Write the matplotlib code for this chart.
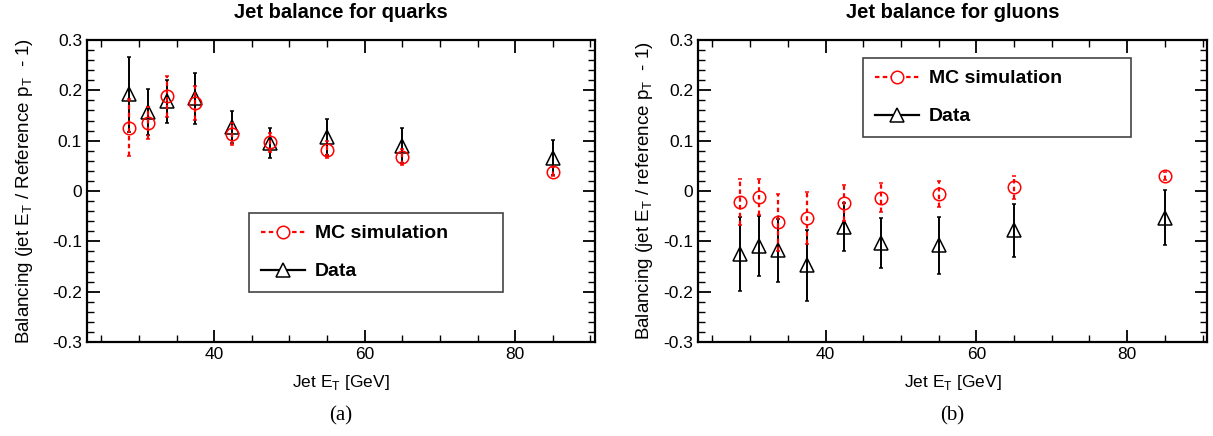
import numpy as np
import matplotlib
matplotlib.use('Agg')
from matplotlib import pyplot as plt
from matplotlib.lines import Line2D
from matplotlib.ticker import MultipleLocator

plt.rcParams['font.family'] = ['Liberation Sans', 'DejaVu Sans']

# jet E_T bins [GeV]
et = [28.7, 31.2, 33.7, 37.5, 42.4, 47.4, 55.0, 65.0, 85.0]

# quarks
q_mc = [0.126, 0.135, 0.188, 0.175, 0.113, 0.097, 0.082, 0.068, 0.038]
q_mc_err = [0.057, 0.031, 0.041, 0.033, 0.022, 0.019, 0.017, 0.016, 0.009]
q_data = [0.192, 0.157, 0.178, 0.184, 0.127, 0.096, 0.107, 0.090, 0.066]
q_data_err = [0.075, 0.045, 0.042, 0.050, 0.032, 0.030, 0.036, 0.035, 0.035]

# gluons
g_mc = [-0.022, -0.012, -0.062, -0.054, -0.024, -0.013, -0.006, 0.007, 0.030]
g_mc_err = [0.046, 0.036, 0.057, 0.052, 0.035, 0.029, 0.026, 0.023, 0.008]
g_data = [-0.125, -0.109, -0.118, -0.148, -0.072, -0.103, -0.108, -0.078, -0.053]
g_data_err = [0.074, 0.059, 0.063, 0.070, 0.048, 0.049, 0.056, 0.053, 0.055]


def panel(ax, mc, mc_err, data, data_err, title, ylabel, letter, legbox, ypad):
    e1 = ax.errorbar(et, mc, yerr=mc_err, fmt='o', color='red', mfc='none',
                     ms=9, mew=1.1, elinewidth=1.6, capsize=1.5, capthick=1.6,
                     zorder=3)
    e1[2][0].set_linestyle((0, (2, 1.5)))
    ax.errorbar(et, data, yerr=data_err, fmt='^', color='black', mfc='none',
                ms=10, mew=1.1, elinewidth=1.4, capsize=1.5, capthick=1.6,
                zorder=2)
    ax.set_xlim(23.1, 90.6)
    ax.set_ylim(-0.3, 0.3)
    ax.xaxis.set_major_locator(MultipleLocator(20))
    ax.xaxis.set_minor_locator(MultipleLocator(5))
    ax.yaxis.set_minor_locator(MultipleLocator(0.02))
    ax.set_yticks(np.arange(-0.3, 0.31, 0.1))
    ax.set_yticklabels(['-0.3', '-0.2', '-0.1', '0', '0.1', '0.2', '0.3'])
    ax.tick_params(which='both', direction='in', top=True, right=True,
                   labelsize=12.5)
    ax.tick_params(which='major', length=9, width=1.3)
    ax.tick_params(which='minor', length=5, width=1.0)
    for s in ax.spines.values():
        s.set_linewidth(1.6)
    ax.set_title(title, fontsize=14.5, fontweight='bold', pad=15.5)
    ax.set_xlabel('Jet E$_\\mathregular{T}$ [GeV]', fontsize=12.5, labelpad=8)
    ax.set_ylabel(ylabel, fontsize=13.5, labelpad=ypad)
    ax.text(0.5, -0.212, letter, transform=ax.transAxes, ha='center',
            va='top', fontsize=15, family='Liberation Serif')
    handles = [
        Line2D([], [], color='red', ls=(0, (2, 1.5)), lw=1.6, marker='o',
               mfc='white', ms=9, mew=1.1),
        Line2D([], [], color='black', ls='-', lw=1.6, marker='^',
               mfc='white', ms=10, mew=1.1),
    ]
    leg = ax.legend(handles, ['MC simulation', 'Data'], loc='upper left',
                    bbox_to_anchor=legbox, mode='expand', fancybox=False,
                    edgecolor='#444444', framealpha=1,
                    prop={'weight': 'bold', 'size': 14}, handlelength=2.3,
                    borderpad=0.6, labelspacing=1.05, handletextpad=0.5,
                    borderaxespad=0)
    leg.get_frame().set_linewidth(1.2)


fig = plt.figure(figsize=(12.13, 4.36), dpi=100)
ax1 = fig.add_axes([0.0717, 0.2156, 0.4188, 0.6927])
ax2 = fig.add_axes([0.5755, 0.2156, 0.4196, 0.6927])

panel(ax1, q_mc, q_mc_err, q_data, q_data_err, 'Jet balance for quarks',
      'Balancing (jet E$_\\mathregular{T}$ / Reference p$_\\mathregular{T}$  - 1)', '(a)',
      (0.319, 0.427 - 0.25, 0.5, 0.25), 12)
panel(ax2, g_mc, g_mc_err, g_data, g_data_err, 'Jet balance for gluons',
      'Balancing (jet E$_\\mathregular{T}$ / reference p$_\\mathregular{T}$  - 1)', '(b)',
      (0.324, 0.940 - 0.25, 0.527, 0.25), 6)

fig.savefig('out.png', dpi=100)
